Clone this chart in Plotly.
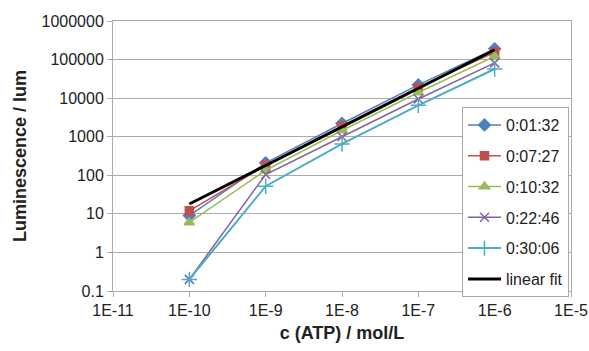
import plotly.graph_objects as go

conc = [1e-10, 1e-9, 1e-8, 1e-7, 1e-6]
s_0132 = [9, 210, 2200, 22000, 190000]
s_0727 = [12, 180, 1900, 19000, 155000]
s_1032 = [6, 135, 1450, 14000, 122000]
s_2246 = [0.2, 105, 1000, 9500, 82000]
s_3006 = [0.2, 52, 650, 6500, 57000]
fit = [18, 180, 1800, 18000, 180000]

x_tickvals = [1e-11, 1e-10, 1e-9, 1e-8, 1e-7, 1e-6, 1e-5]
x_ticktext = ["1E-11", "1E-10", "1E-9", "1E-8", "1E-7", "1E-6", "1E-5"]
y_tickvals = [0.1, 1, 10, 100, 1000, 10000, 100000, 1000000]
y_ticktext = ["0.1", "1", "10", "100", "1000", "10000", "100000", "1000000"]

FONT = "Liberation Sans"
GRID = "#ABABAB"

series = [
    ("0:01:32", s_0132, "#4F81BD", "diamond", 9, 1.5),
    ("0:07:27", s_0727, "#C0504D", "square", 8, 1.5),
    ("0:10:32", s_1032, "#9BBB59", "triangle-up", 9, 1.5),
    ("0:22:46", s_2246, "#8064A2", "x-thin", 9, 1.5),
    ("0:30:06", s_3006, "#4BACC6", "cross-thin", 11, 2),
]

fig = go.Figure()
for i, (name, ys, col, sym, sz, lw) in enumerate(series):
    fig.add_trace(go.Scatter(
        x=conc, y=ys, name=name, mode="lines+markers",
        line=dict(color=col, width=lw),
        marker=dict(symbol=sym, size=sz, color=col,
                    line=dict(color=col, width=1.5)),
        legendgroup=f"g{i}",
    ))
fig.add_trace(go.Scatter(
    x=conc, y=fit, name="linear fit", mode="lines",
    line=dict(color="black", width=3), legendgroup="g9",
))

fig.update_layout(
    width=589, height=351,
    margin=dict(l=113, r=18, t=21, b=60, autoexpand=False),
    paper_bgcolor="white", plot_bgcolor="white",
    font=dict(family=FONT, size=16, color="#222222"),
    legend=dict(
        x=(462 - 113) / 458, y=(291 - 107) / 270,
        xanchor="left", yanchor="top",
        bordercolor=GRID, borderwidth=1, bgcolor="white",
        traceorder="grouped", tracegroupgap=7, itemwidth=33,
        font=dict(family=FONT, size=16, color="#222222"),
    ),
    showlegend=True,
)
fig.update_xaxes(
    type="log", range=[-11, -5],
    tickvals=x_tickvals, ticktext=x_ticktext,
    showgrid=False, showline=True, linecolor=GRID, linewidth=1, mirror=True,
    ticks="outside", ticklen=5, tickcolor=GRID,
    tickfont=dict(family=FONT, size=16),
    title=dict(text="<b>c (ATP) / mol/L</b>", font=dict(family=FONT, size=18), standoff=8),
    zeroline=False,
)
fig.update_yaxes(
    type="log", range=[-1, 6],
    tickvals=y_tickvals, ticktext=y_ticktext,
    showgrid=True, gridcolor=GRID, gridwidth=1,
    showline=True, linecolor=GRID, linewidth=1, mirror=True,
    ticks="outside", ticklen=5, tickcolor=GRID,
    tickfont=dict(family=FONT, size=16),
    title=dict(text="<b>Luminescence / lum</b>", font=dict(family=FONT, size=18), standoff=10),
    zeroline=False,
)

fig.write_html("out.html")
